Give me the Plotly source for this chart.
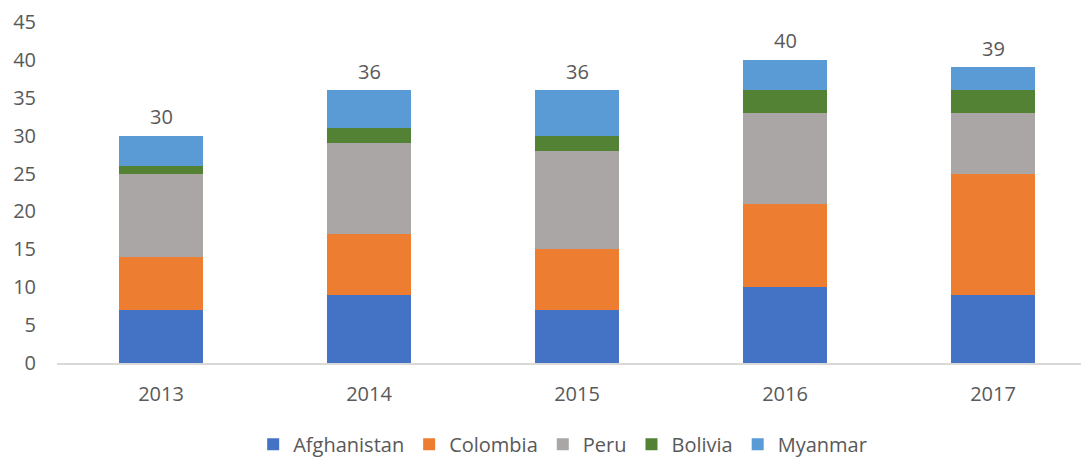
import plotly.graph_objects as go

years = ["2013", "2014", "2015", "2016", "2017"]
afghanistan = [7, 9, 7, 10, 9]
colombia = [7, 8, 8, 11, 16]
peru = [11, 12, 13, 12, 8]
bolivia = [1, 2, 2, 3, 3]
myanmar = [4, 5, 6, 4, 3]
totals = [30, 36, 36, 40, 39]

series = [
    ("Afghanistan", afghanistan, "#4472C4"),
    ("Colombia", colombia, "#ED7D31"),
    ("Peru", peru, "#A9A6A5"),
    ("Bolivia", bolivia, "#548235"),
    ("Myanmar", myanmar, "#5B9BD5"),
]

fig = go.Figure()
for name, vals, col in series:
    fig.add_trace(go.Bar(x=years, y=vals, name=name, marker_color=col,
                         marker_line_width=0, width=0.4))

for i, t in enumerate(totals):
    fig.add_annotation(x=i, y=t, xref="x", yref="y", text=str(t), showarrow=False,
                       yshift=19, font=dict(size=20, color="#595959"))

font = "Segoe UI, Open Sans, DejaVu Sans, sans-serif"
fig.update_layout(
    barmode="stack",
    width=1081, height=456,
    margin=dict(l=49, r=0, t=11, b=101),
    plot_bgcolor="white", paper_bgcolor="white",
    font=dict(family=font, size=20, color="#595959"),
    showlegend=True,
    legend=dict(orientation="h", x=0.49, xanchor="center", y=-0.238, yanchor="middle",
                font=dict(size=20, color="#595959"), itemwidth=30, traceorder="normal"),
    bargap=0.6,
)
fig.update_xaxes(type="category", range=[-0.5, 4.4615], showline=True, linecolor="#D9D9D9",
                 linewidth=1.5, showgrid=False, ticks="", ticklabelstandoff=12)
fig.update_yaxes(range=[0, 45], dtick=5, showgrid=False, zeroline=False, showline=False,
                 ticklabelstandoff=20, ticklabeloverflow="allow")

fig.write_html("out.html")
